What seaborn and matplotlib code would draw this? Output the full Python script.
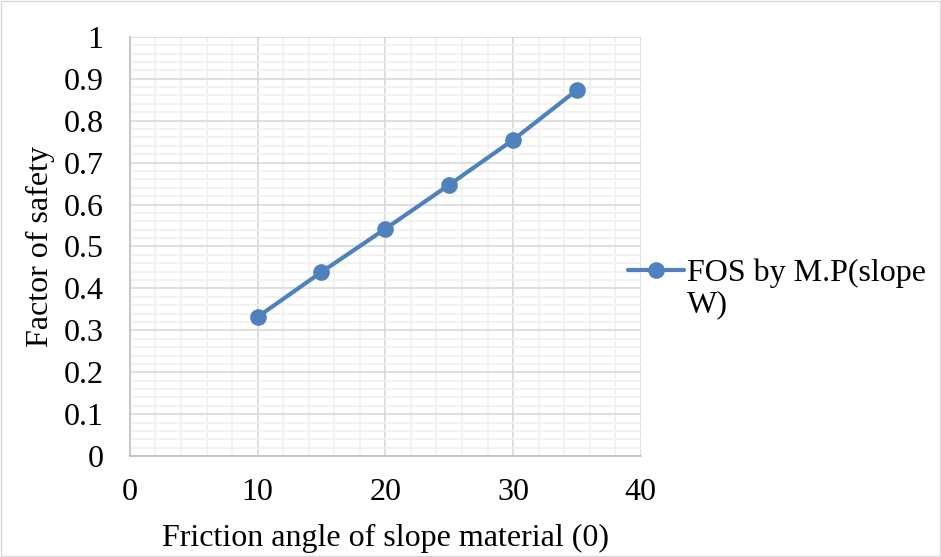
import matplotlib
matplotlib.use("Agg")
import matplotlib.pyplot as plt
import seaborn as sns
import pandas as pd
from matplotlib.ticker import MultipleLocator

friction_angle = [10, 15, 20, 25, 30, 35]
fos = [0.332, 0.439, 0.542, 0.647, 0.754, 0.873]
series_name = "FOS by M.P(slope"
series_name_wrap = "W)"

df = pd.DataFrame({"angle": friction_angle, "fos": fos})

sns.set_style("white")
plt.rcParams['font.family'] = ['Liberation Serif', 'DejaVu Serif']
plt.rcParams['text.color'] = 'black'
plt.rcParams['axes.labelcolor'] = 'black'

fig = plt.figure(figsize=(9.41, 5.57), dpi=100)
ax = fig.add_axes([0.138, 0.181, 0.543, 0.753])

sns.lineplot(data=df, x="angle", y="fos", ax=ax, color="#4f81bd", linewidth=3,
             marker="o", markersize=12, markeredgewidth=0, label=series_name)

ax.set_xlim(0, 40)
ax.set_ylim(0, 1)
ax.xaxis.set_major_locator(MultipleLocator(10))
ax.xaxis.set_minor_locator(MultipleLocator(2))
ax.yaxis.set_major_locator(MultipleLocator(0.1))
ax.yaxis.set_minor_locator(MultipleLocator(0.02))
ax.set_yticklabels(["0" if abs(v) < 1e-9 else ("1" if abs(v - 1) < 1e-9 else f"{v:.1f}") for v in ax.get_yticks()])

ax.grid(which="minor", color="#f0f0f0", linewidth=1.2)
ax.grid(which="major", color="#d9d9d9", linewidth=1.2)
ax.set_axisbelow(True)

for s in ["top", "right"]:
    ax.spines[s].set_visible(False)
for s in ["left", "bottom"]:
    ax.spines[s].set_color("#bfbfbf")
    ax.spines[s].set_linewidth(1.2)

ax.tick_params(which="minor", length=0)
ax.tick_params(which="major", length=7, width=1.2, color="#bfbfbf", direction="out",
               labelsize=23, labelcolor="black")
ax.tick_params(axis="y", which="major", pad=12)
ax.tick_params(axis="x", which="major", pad=9)
ax.set_xlabel("Friction angle of slope material (0)", fontsize=23, labelpad=12)
ax.set_ylabel("Factor of safety", fontsize=23, labelpad=6)

leg = ax.legend(loc="center left", bbox_to_anchor=(0.975, 0.435), frameon=False, fontsize=23,
                handlelength=1.75, handletextpad=0.08, borderaxespad=0, borderpad=0)

# second line of the wrapped legend label, placed under the first line
fig.canvas.draw()
bb = leg.get_texts()[0].get_window_extent().transformed(fig.transFigure.inverted())
fig.text(bb.x0, bb.y0 - 0.004, series_name_wrap, ha="left", va="top", fontsize=23)

fig.patches.append(plt.Rectangle((0.001, 0.001), 0.998, 0.998, transform=fig.transFigure,
                                 fill=False, edgecolor="#d9d9d9", linewidth=1))

fig.savefig("out.png", dpi=100)
